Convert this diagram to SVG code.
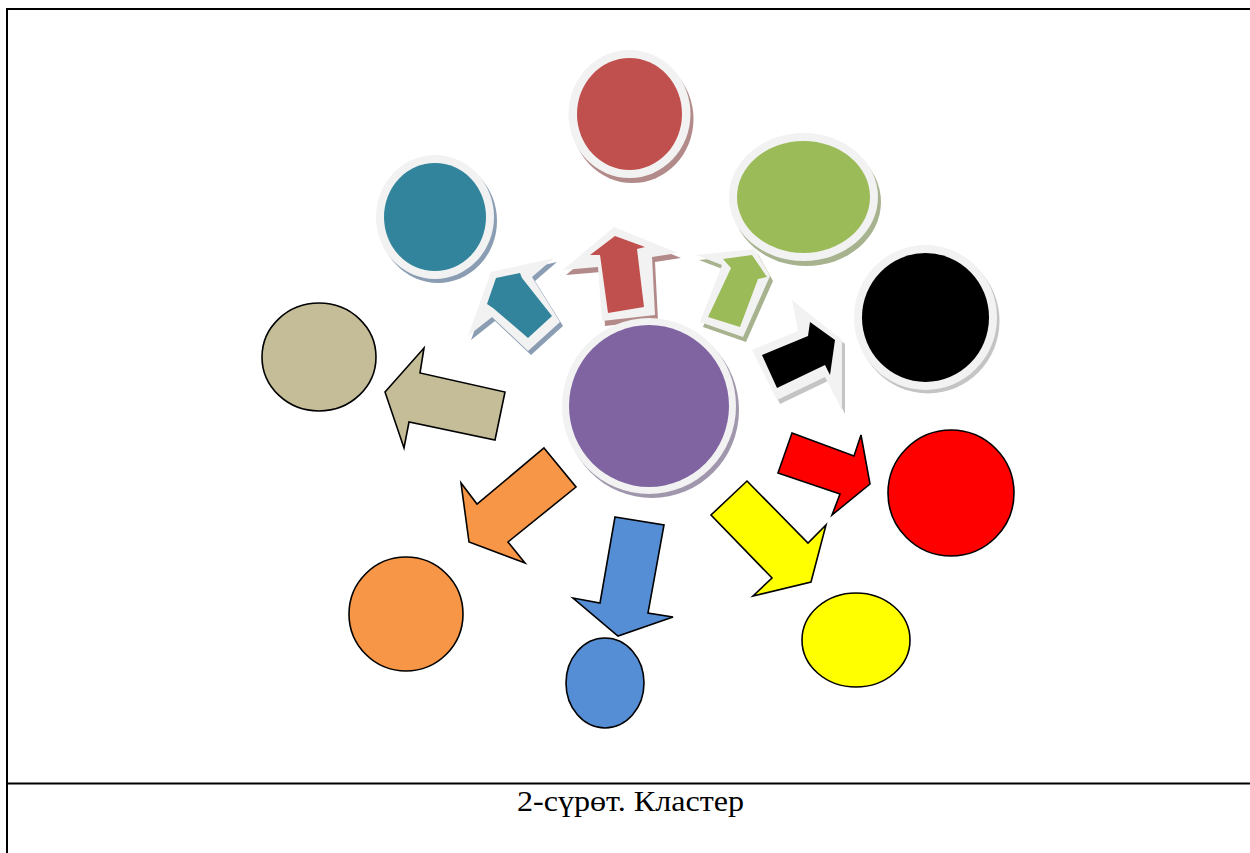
<svg xmlns="http://www.w3.org/2000/svg" width="1250" height="853" viewBox="0 0 1250 853">
<style>
.ring{fill:#f2f2f2}
.plain{stroke:#000;stroke-width:1.6;stroke-linejoin:miter}
.frame{fill:none;stroke:#000;stroke-width:2}
.cap{font-family:"Liberation Serif","Times New Roman",serif;font-size:30px;fill:#000}
</style>
<rect width="1250" height="853" fill="#fff"/>
<g id="frame">
<path class="frame" d="M7,853 V9 H1250"/>
<path class="frame" d="M7,783.5 H1250"/>
</g>

<g id="connectors">
<g id="arrow-teal">
<polygon points="468,336 491,272 554,258 532,277 560,322 528,351 492,317" transform="translate(3,4)" fill="#8a9db3"/>
<polygon class="ring" points="468,336 491,272 554,258 532,277 560,322 528,351 492,317"/>
<polygon points="496,278 520,273 522,278 552,316 528,338 493,308 487,304" fill="#31849b"/>
</g>
<g id="arrow-red">
<polygon points="614,227 678,253 652,257 655,315 602,321 598,267 563,270" transform="translate(3,5)" fill="#b38a8a"/>
<polygon class="ring" points="614,227 678,253 652,257 655,315 602,321 598,267 563,270"/>
<polygon points="615,236 645,247 637,249 644,307 608,313 600,255 590,255" fill="#c0504d"/>
</g>
<g id="arrow-green">
<polygon points="696,255 755,249 770,276 766,285 743,337 700,322 722,265" transform="translate(3,5)" fill="#a7b38f"/>
<polygon class="ring" points="696,255 755,249 770,276 766,285 743,337 700,322 722,265"/>
<polygon points="752,255 767,277 758,279 740,327 708,317 731,268 723,259" fill="#9bbb59"/>
</g>
<g id="arrow-black">
<polygon points="752,350 798,331 792,300 842,340 842,410 825,377 777,400" transform="translate(3,4)" fill="#c4c4c4"/>
<polygon class="ring" points="752,350 798,331 792,300 842,340 842,410 825,377 777,400"/>
<polygon points="762,355 808,336 810,322 835,340 830,375 825,365 777,388" fill="#000"/>
</g>
<polygon id="arrow-khaki" class="plain" fill="#c4bd97" points="385,392 424,348 420,373 505,392 495,440 409,422 404,448"/>
<polygon id="arrow-orange" class="plain" fill="#f79646" points="544,448 576,487 508,542 525,563 469,542 461,483 477,504"/>
<polygon id="arrow-blue" class="plain" fill="#558ed5" points="615,517 664,525 648,613 673,617 618,636 573,598 600,603"/>
<polygon id="arrow-yellow" class="plain" fill="#ffff00" points="747,481 808,543 826,525 811,582 753,596 772,578 711,515"/>
<polygon id="arrow-redright" class="plain" fill="#ff0000" points="792,433 854,456 861,435 870,484 832,515 840,494 778,473"/>
</g>

<g id="node-red">
<ellipse cx="632.5" cy="119" rx="61" ry="64" fill="#b38a8a"/>
<ellipse class="ring" cx="629.5" cy="114" rx="61" ry="64"/>
<ellipse cx="629.5" cy="114" rx="52.5" ry="56" fill="#c0504d"/>
</g>
<g id="node-teal">
<ellipse cx="438" cy="221" rx="59" ry="62" fill="#8a9db3"/>
<ellipse class="ring" cx="435" cy="217" rx="59" ry="62"/>
<ellipse cx="435" cy="217" rx="51" ry="54" fill="#31849b"/>
</g>
<g id="node-green">
<ellipse cx="806.5" cy="202" rx="74.5" ry="64" fill="#a7b38f"/>
<ellipse class="ring" cx="803.5" cy="197" rx="74.5" ry="64"/>
<ellipse cx="803.5" cy="197" rx="66.5" ry="56" fill="#9bbb59"/>
</g>
<g id="node-black">
<ellipse cx="928" cy="321" rx="71.5" ry="72.5" fill="#c4c4c4"/>
<ellipse class="ring" cx="925.5" cy="317.5" rx="71.5" ry="72.5"/>
<ellipse cx="925.5" cy="317.5" rx="63.5" ry="64.5" fill="#000"/>
</g>
<g id="node-purple">
<ellipse cx="652" cy="410" rx="87" ry="88" fill="#a097ad"/>
<ellipse class="ring" cx="649" cy="406" rx="87" ry="88"/>
<ellipse cx="649" cy="406" rx="80" ry="81" fill="#8064a2"/>
</g>
<ellipse id="node-khaki" class="plain" cx="319" cy="357" rx="57" ry="54" fill="#c4bd97"/>
<ellipse id="node-redright" class="plain" cx="951" cy="493" rx="63" ry="63" fill="#ff0000"/>
<ellipse id="node-orange" class="plain" cx="406" cy="614" rx="57" ry="57" fill="#f79646"/>
<ellipse id="node-blue" class="plain" cx="605" cy="683" rx="39" ry="45" fill="#558ed5"/>
<ellipse id="node-yellow" class="plain" cx="856" cy="640" rx="54" ry="47" fill="#ffff00"/>

<g id="caption">
<text class="cap" x="630.5" y="811" text-anchor="middle" textLength="227" lengthAdjust="spacingAndGlyphs">2-сүрөт. Кластер</text>
</g>
</svg>
